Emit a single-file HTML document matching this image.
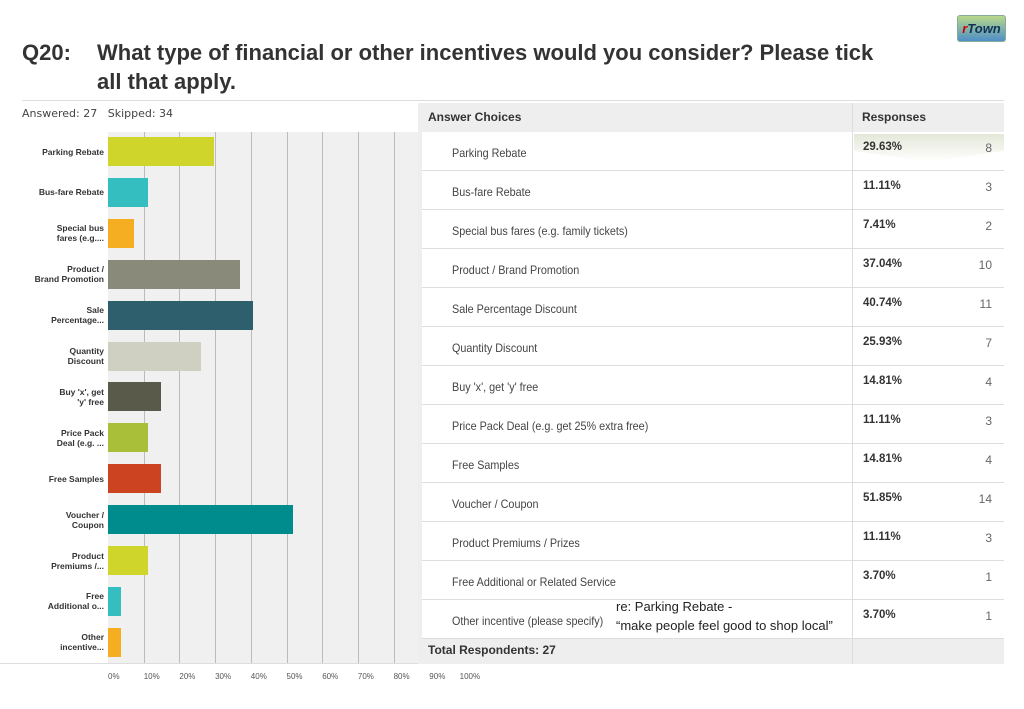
<!DOCTYPE html>
<html><head><meta charset="utf-8"><style>
body{margin:0;width:1024px;height:709px;background:#fff;position:relative;overflow:hidden;font-family:"Liberation Sans",sans-serif}
.abs{position:absolute}
.title{font-family:"Liberation Sans",sans-serif;font-weight:bold;font-size:22px;color:#333;line-height:29px}
.lbl{position:absolute;right:920px;width:100px;text-align:right;font-size:8.5px;font-weight:bold;color:#333;line-height:10px;transform:translateY(-50%)}
.tick{position:absolute;top:672px;font-size:8px;color:#555}
.row{position:absolute;left:422px;width:582px;height:38px;border-bottom:1px solid #ddd;background:#fff}
.rc{position:absolute;left:30px;font-size:12px;color:#444;transform:scaleX(.9);transform-origin:left}
.pct{position:absolute;left:441px;font-size:11.5px;font-weight:bold;color:#333}
.cnt{position:absolute;right:12px;font-size:12px;color:#666}
</style></head><body>
<div class="abs title" style="left:22px;top:38px">Q20:</div>
<div class="abs title" style="left:97px;top:38px;width:790px">What type of financial or other incentives would you consider? Please tick all that apply.</div>
<div class="abs" style="left:957px;top:15px;width:47px;height:25px;background:linear-gradient(#b8d88a,#4f8fc8);border:1px solid #8a9;border-radius:3px;font:italic bold 13px 'Liberation Sans',sans-serif;color:#135;text-align:center;line-height:25px"><span style="color:#c00">r</span>Town</div>
<div class="abs" style="left:22px;top:100px;width:982px;height:1px;background:#ddd"></div>
<div class="abs" style="left:22px;top:107px;font-family:'DejaVu Sans',sans-serif;font-size:11px;color:#444">Answered: 27 &nbsp;&nbsp;Skipped: 34</div>
<div class="abs" style="left:0;top:663px;width:418px;height:1px;background:#ddd"></div>
<div id="chart"></div>
<div id="table"></div>
<script>
const categories=["Parking Rebate","Bus-fare Rebate","Special bus fares (e.g. family tickets)","Product / Brand Promotion","Sale Percentage Discount","Quantity Discount","Buy 'x', get 'y' free","Price Pack Deal (e.g. get 25% extra free)","Free Samples","Voucher / Coupon","Product Premiums / Prizes","Free Additional or Related Service","Other incentive (please specify)"];
const shortLabels=["Parking Rebate","Bus-fare Rebate","Special bus<br>fares (e.g....","Product /<br>Brand Promotion","Sale<br>Percentage...","Quantity<br>Discount","Buy 'x', get<br>'y' free","Price Pack<br>Deal (e.g. ...","Free Samples","Voucher /<br>Coupon","Product<br>Premiums /...","Free<br>Additional o...","Other<br>incentive..."];
const percents=[29.63,11.11,7.41,37.04,40.74,25.93,14.81,11.11,14.81,51.85,11.11,3.70,3.70];
const counts=[8,3,2,10,11,7,4,3,4,14,3,1,1];
const colors=["#cfd52a","#35bec0","#f5ae22","#8a8a7a","#2e5f6c","#cfcfc2","#5a5a4a","#a9bf3a","#cc4321","#008b8c","#cfd52a","#35bec0","#f5ae22"];
const tickLabels=["0%","10%","20%","30%","40%","50%","60%","70%","80%","90%","100%"];
const X0=108,PX=3.57,Y0=151.5,STEP=40.9;
const xs=v=>X0+v*PX, ys=i=>Y0+i*STEP;
const chart=document.getElementById('chart');
let h='<div class="abs" style="left:108px;top:132px;width:310px;height:531px;background:#f0f0f0"></div>';
for(let t=1;t<=8;t++){h+=`<div class="abs" style="left:${Math.round(xs(t*10))}px;top:132px;width:1px;height:531px;background:#bbb"></div>`;}
chart.innerHTML=h;
tickLabels.forEach((t,i)=>{const d=document.createElement('div');d.className='tick';


d.style.left=(i==10?xs(98.5):xs(i*10))+'px';d.textContent=t;chart.appendChild(d);});
percents.forEach((p,i)=>{const b=document.createElement('div');b.className='abs';


b.style.cssText=`left:${X0}px;top:${Math.round(ys(i)-14.5)}px;width:${p*PX}px;height:29px;background:${colors[i]}`;chart.appendChild(b);
const l=document.createElement('div');l.className='lbl';


l.style.top=ys(i)+'px';l.innerHTML=shortLabels[i];chart.appendChild(l);});
const tb=document.getElementById('table');
let th='<div class="abs" style="left:418px;top:103px;width:586px;height:561px;background:#eee"></div>';
th+='<div class="abs" style="left:428px;top:110px;font-size:12px;font-weight:bold;color:#333">Answer Choices</div>';
th+='<div class="abs" style="left:862px;top:110px;font-size:12px;font-weight:bold;color:#333">Responses</div>';
tb.innerHTML=th;
categories.forEach((c,i)=>{const r=document.createElement('div');r.className='row';


const top=132+i*39;r.style.top=top+'px';
r.innerHTML=`<div class="rc" style="top:14px">${c}</div><div class="pct" style="top:9px">${percents[i].toFixed(2)}%</div><div class="cnt" style="top:9px">${counts[i]}</div><div class="abs" style="left:430px;top:0;width:1px;height:39px;background:#ddd"></div>`;
if(i==0){r.innerHTML='<div class="abs" style="left:432px;top:2px;width:150px;height:28px;background:linear-gradient(#e3e8d8,#fff);clip-path:polygon(0 0,100% 0,100% 60%,50% 100%,0 60%)"></div>'+r.innerHTML;}
tb.appendChild(r);});
const tot=document.createElement('div');tot.className='abs';


tot.style.cssText='left:428px;top:643px;font-size:12px;font-weight:bold;color:#333';tot.textContent='Total Respondents: 27';tb.appendChild(tot);
const dv=document.createElement('div');dv.className='abs';


dv.style.cssText='left:852px;top:103px;width:1px;height:561px;background:#ddd';tb.appendChild(dv);
const an=document.createElement('div');an.className='abs';


an.style.cssText="left:616px;top:597px;font-family:'Liberation Sans',sans-serif;font-size:13px;color:#222;line-height:19px;white-space:nowrap";
an.innerHTML='re: Parking Rebate -<br>“make people feel good to shop local”';tb.appendChild(an);
</script>
</body></html>
